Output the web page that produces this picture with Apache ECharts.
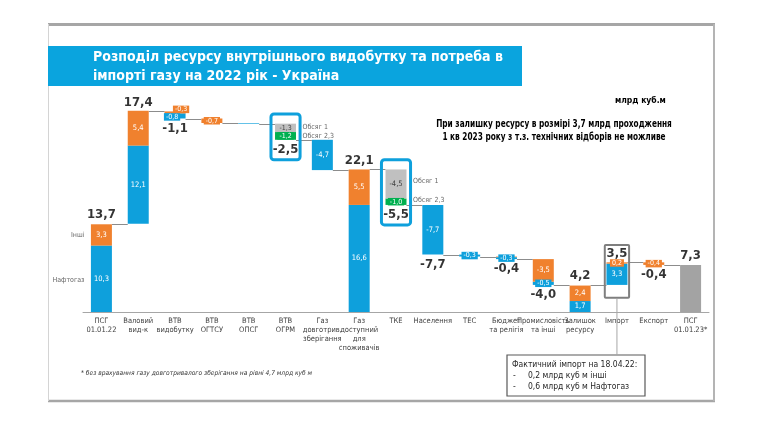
<!DOCTYPE html>
<html>
<head>
<meta charset="utf-8">
<script src="https://cdn.jsdelivr.net/npm/echarts/dist/echarts.min.js"></script>
<style>
  html, body { margin: 0; padding: 0; background: #fff; }
  #chart { width: 764px; height: 423px; }
</style>
</head>
<body>
<div id="chart"></div>
<script>
// categories and values (млрд куб.м)
const categories = [
  'ПСГ\n01.01.22', 'Валовий\nвид-к', 'ВТВ\nвидобутку', 'ВТВ\nОГТСУ', 'ВТВ\nОПСГ', 'ВТВ\nОГРМ',
  'Газ\nдовготрив.\nзберігання', 'Газ\nдоступний\nдля\nспоживачів', 'ТКЕ', 'Населення', 'ТЕС',
  'Бюджет\nта релігія', 'Промисловість\nта інші', 'Залишок\nресурсу', 'Імпорт', 'Експорт', 'ПСГ\n01.01.23*'
];
const kinds = ['total', 'step', 'step', 'step', 'step', 'step', 'step', 'total', 'step', 'step', 'step',
  'step', 'step', 'total', 'step', 'step', 'total'];
const steps = [13.7, 17.4, -1.1, -0.7, -0.1, -2.5, -4.7, 22.1, -5.5, -7.7, -0.3, -0.4, -4.0, 4.2, 3.5, -0.4, 7.3];
const totalShown = [1, 1, 1, 0, 0, 1, 0, 1, 1, 1, 0, 1, 1, 1, 1, 1, 1];

// segments: blue = Нафтогаз, orange = Інші, green = Обсяг 2,3, gray = Обсяг 1
const blueVals = [10.3, 12.1, -0.8, 0, -0.1, 0, -4.7, 16.6, 0, -7.7, -0.3, -0.3, -0.5, 1.7, 3.3, 0, 0];
const orangeVals = [3.3, 5.4, -0.3, -0.7, 0, 0, 0, 5.5, 0, 0, 0, -0.1, -3.5, 2.4, 0.2, -0.4, 0];
const greenVals = [0, 0, 0, 0, 0, -1.2, 0, 0, -1.0, 0, 0, 0, 0, 0, 0, 0, 0];
const grayVals = [0, 0, 0, 0, 0, -1.3, 0, 0, -4.5, 0, 0, 0, 0, 0, 0, 0, 7.3];

// highlight frames: category index, top and bottom value
const frameCats = [5, 8, 14];
const frameTop = [30.7, 23.6, 10.4];
const frameBottom = [23.6, 13.5, 2.2];

// side notes next to bars: category index, value, text
const noteCats = [0, 0, 5, 5, 8, 8];
const noteVals = [11.9, 5.0, 28.7, 27.3, 20.3, 17.4];
const noteTexts = ['Інші', 'Нафтогаз', 'Обсяг 1', 'Обсяг 2,3', 'Обсяг 1', 'Обсяг 2,3'];

const FONT = '"DejaVu Sans Condensed", "Liberation Sans", sans-serif';
const BLUE = '#0ea0dc', ORANGE = '#f0812e', GREEN = '#00b050', GRAY = '#c0c0c0', DARKGRAY = '#a3a3a3';

const fmt = v => v.toFixed(1).replace('.', ',');

// running level after each bar, and invisible base under each bar
const levels = [];
let run = 0;
steps.forEach((s, i) => {
  run = kinds[i] === 'total' ? s : run + s;
  levels.push(+run.toFixed(1));
});
const bases = steps.map((s, i) => kinds[i] === 'total' ? 0 : (s < 0 ? levels[i] : levels[i] - s));

const labelOffsets = { blue: { 2: [-3, 1] }, orange: { 2: [6, -3] } };

function segData(vals, color, txt, key) {
  return vals.map((v, i) => {
    const a = Math.abs(v);
    const small = a < 1.5;
    return {
      value: a,
      label: {
        show: a >= 0.15,
        formatter: fmt(v),
        color: txt,
        fontSize: small ? 7 : 7.5,
        lineHeight: small ? 7.5 : 9,
        backgroundColor: small ? color : 'transparent',
        padding: small ? [0, 2] : 0,
        offset: (labelOffsets[key] && labelOffsets[key][i]) || [0, 0]
      }
    };
  });
}

const grayData = segData(grayVals, GRAY, '#404040', 'gray');
grayData[16].itemStyle = { color: DARKGRAY };
grayData[16].label.show = false;

const segLabel = { show: true, position: 'inside', fontFamily: FONT };

const chart = echarts.init(document.getElementById('chart'), null, { renderer: 'canvas' });

chart.setOption({
  backgroundColor: '#fff',
  animation: false,
  textStyle: { fontFamily: FONT },
  grid: { left: 83, right: 55, top: 54, bottom: 111 },
  xAxis: {
    type: 'category',
    data: categories,
    axisTick: { show: false },
    axisLine: { lineStyle: { color: '#a6a6a6', width: 1 } },
    axisLabel: { interval: 0, fontSize: 7.5, lineHeight: 8.8, color: '#404040', margin: 5, fontFamily: FONT }
  },
  yAxis: { type: 'value', min: 0, max: 40, show: false },
  series: [
    {
      type: 'bar', stack: 'w', barWidth: 21, silent: true,
      itemStyle: { color: 'rgba(0,0,0,0)' },
      data: bases
    },
    { type: 'bar', stack: 'w', barWidth: 21, itemStyle: { color: BLUE }, label: segLabel,
      data: segData(blueVals, BLUE, '#fff', 'blue') },
    { type: 'bar', stack: 'w', barWidth: 21, itemStyle: { color: ORANGE }, label: segLabel,
      data: segData(orangeVals, ORANGE, '#fff', 'orange') },
    { type: 'bar', stack: 'w', barWidth: 21, itemStyle: { color: GREEN }, label: segLabel,
      data: segData(greenVals, GREEN, '#fff', 'green') },
    { type: 'bar', stack: 'w', barWidth: 21, itemStyle: { color: GRAY }, label: segLabel,
      data: grayData },
    {
      // connectors between bars
      type: 'custom', silent: true, z: 1,
      data: levels.slice(0, -1).map((lv, i) => [i, lv]),
      renderItem(params, api) {
        const i = api.value(0), lv = api.value(1);
        const p1 = api.coord([i, lv]), p2 = api.coord([i + 1, lv]);
        const hw = api.size([1, 0])[0] * 0.285;
        const y = Math.round(p1[1]) + 0.5;
        return {
          type: 'line',
          shape: { x1: p1[0] + hw, y1: y, x2: p2[0] - hw, y2: y },
          style: { stroke: '#8c8c8c', lineWidth: 1 }
        };
      }
    },
    {
      // highlight frames
      type: 'custom', silent: true, z: 5, clip: false,
      data: frameCats.map((c, k) => [c, frameTop[k], frameBottom[k], k === 2 ? 1 : 0]),
      renderItem(params, api) {
        const i = api.value(0), kind = api.value(3);
        const p1 = api.coord([i, api.value(1)]), p2 = api.coord([i, api.value(2)]);
        const w = api.size([1, 0])[0] * (kind ? 0.66 : 0.79);
        const rect = {
          type: 'rect',
          shape: { x: p1[0] - w / 2, y: p1[1], width: w, height: p2[1] - p1[1], r: kind ? 1 : 3 },
          style: { fill: 'none', stroke: kind ? '#7f7f7f' : BLUE, lineWidth: kind ? 2 : 3 }
        };
        if (!kind) return rect;
        return {
          type: 'group',
          children: [rect, {
            type: 'line',
            shape: { x1: p1[0], y1: p2[1] + 1, x2: p1[0], y2: 355 },
            style: { stroke: '#a6a6a6', lineWidth: 1 }
          }]
        };
      }
    },
    {
      // totals
      type: 'scatter', symbolSize: 1, silent: true, z: 6,
      itemStyle: { color: 'rgba(0,0,0,0)' },
      label: { show: true, fontSize: 13, fontWeight: 'bold', color: '#000', fontFamily: FONT },
      data: steps.map((s, i) => totalShown[i] ? {
        value: [i, s < 0 ? bases[i] : levels[i]],
        label: { position: s < 0 ? 'bottom' : 'top', distance: s < 0 ? 3 : 2, formatter: fmt(s) }
      } : null).filter(Boolean)
    },
    {
      // side notes
      type: 'scatter', symbolSize: 1, silent: true, z: 6,
      itemStyle: { color: 'rgba(0,0,0,0)' },
      label: { show: true, fontSize: 7, color: '#404040', distance: 16.5, fontFamily: FONT },
      data: noteCats.map((c, k) => ({
        value: [c, noteVals[k]],
        label: { position: c === 0 ? 'left' : 'right', formatter: noteTexts[k] }
      }))
    }
  ],
  graphic: [
    { type: 'line', shape: { x1: 48, y1: 24.5, x2: 715, y2: 24.5 }, style: { stroke: '#a6a6a6', lineWidth: 3 } },
    { type: 'line', shape: { x1: 48, y1: 401, x2: 715, y2: 401 }, style: { stroke: '#a6a6a6', lineWidth: 2.5 } },
    { type: 'line', shape: { x1: 48.5, y1: 24, x2: 48.5, y2: 401 }, style: { stroke: '#d4d4d4', lineWidth: 1 } },
    { type: 'line', shape: { x1: 714, y1: 24, x2: 714, y2: 401 }, style: { stroke: '#b4b4b4', lineWidth: 2 } },
    { type: 'rect', shape: { x: 48, y: 46, width: 474, height: 40 }, style: { fill: '#0aa4de' } },
    { type: 'text', x: 93, y: 57, style: { text: 'Розподіл ресурсу внутрішнього видобутку та потреба в',
      fill: '#fff', font: 'bold 14px ' + FONT, textVerticalAlign: 'middle' } },
    { type: 'text', x: 93, y: 76, style: { text: 'імпорті газу на 2022 рік - Україна',
      fill: '#fff', font: 'bold 14px ' + FONT, textVerticalAlign: 'middle' } },
    { type: 'text', x: 615, y: 101, style: { text: 'млрд куб.м', fill: '#000',
      font: 'bold 8.5px ' + FONT, textVerticalAlign: 'middle' } },
    { type: 'text', x: 554, y: 124, scaleX: 0.78, style: { text: 'При залишку ресурсу в розмірі 3,7 млрд проходження',
      fill: '#000', font: 'bold 10.5px ' + FONT, textAlign: 'center', textVerticalAlign: 'middle' } },
    { type: 'text', x: 554, y: 137, scaleX: 0.78, style: { text: '1 кв 2023 року з т.з. технічних відборів не можливе',
      fill: '#000', font: 'bold 10.5px ' + FONT, textAlign: 'center', textVerticalAlign: 'middle' } },
    { type: 'text', x: 81, y: 373, style: { text: '* без врахування газу довготривалого зберігання на рівні 4,7 млрд куб м',
      fill: '#333', font: 'italic 6.6px ' + FONT, textVerticalAlign: 'middle' } },
    { type: 'rect', shape: { x: 507, y: 355, width: 138, height: 41 },
      style: { fill: '#fff', stroke: '#595959', lineWidth: 1.2 } },
    { type: 'text', x: 512, y: 365, style: { text: 'Фактичний імпорт на 18.04.22:', fill: '#262626',
      font: '8.5px ' + FONT, textVerticalAlign: 'middle' } },
    { type: 'text', x: 513, y: 376, style: { text: '-', fill: '#262626', font: '8.5px ' + FONT, textVerticalAlign: 'middle' } },
    { type: 'text', x: 528, y: 376, style: { text: '0,2 млрд куб м інші', fill: '#262626',
      font: '8.5px ' + FONT, textVerticalAlign: 'middle' } },
    { type: 'text', x: 513, y: 387, style: { text: '-', fill: '#262626', font: '8.5px ' + FONT, textVerticalAlign: 'middle' } },
    { type: 'text', x: 528, y: 387, style: { text: '0,6 млрд куб м Нафтогаз', fill: '#262626',
      font: '8.5px ' + FONT, textVerticalAlign: 'middle' } }
  ]
});
</script>
</body>
</html>
